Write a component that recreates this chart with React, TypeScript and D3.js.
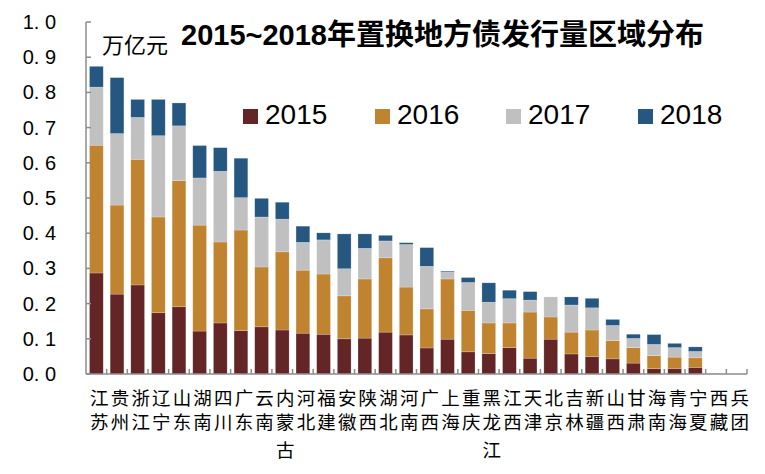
import React from 'react';
import * as d3 from 'd3';

// 各地区置换债发行量（万亿元）
const regions = [
  '江苏', '贵州', '浙江', '辽宁', '山东', '湖南', '四川', '广东', '云南', '内蒙古',
  '河北', '福建', '安徽', '陕西', '湖北', '河南', '广西', '上海', '重庆', '黑龙江',
  '江西', '天津', '北京', '吉林', '新疆', '山西', '甘肃', '海南', '青海', '宁夏',
  '西藏', '兵团',
];
const years = ['2015', '2016', '2017', '2018'];

const v2015 = [0.287, 0.227, 0.253, 0.174, 0.191, 0.122, 0.145, 0.123, 0.134, 0.125,
  0.116, 0.113, 0.100, 0.102, 0.119, 0.111, 0.074, 0.099, 0.063, 0.058,
  0.075, 0.045, 0.099, 0.057, 0.049, 0.043, 0.031, 0.015, 0.016, 0.019, 0, 0];
const v2016 = [0.363, 0.253, 0.357, 0.272, 0.358, 0.301, 0.230, 0.286, 0.170, 0.222,
  0.179, 0.171, 0.122, 0.168, 0.211, 0.136, 0.111, 0.171, 0.118, 0.087,
  0.070, 0.131, 0.063, 0.062, 0.076, 0.052, 0.044, 0.037, 0.032, 0.027, 0, 0];
const v2017 = [0.165, 0.203, 0.119, 0.231, 0.156, 0.134, 0.201, 0.092, 0.142, 0.093,
  0.079, 0.097, 0.077, 0.087, 0.048, 0.121, 0.121, 0.019, 0.079, 0.059,
  0.069, 0.034, 0.057, 0.077, 0.063, 0.043, 0.026, 0.032, 0.027, 0.018, 0.002, 0];
const v2018 = [0.059, 0.159, 0.051, 0.103, 0.065, 0.092, 0.067, 0.112, 0.053, 0.048,
  0.046, 0.020, 0.099, 0.041, 0.016, 0.005, 0.053, 0.003, 0.014, 0.055,
  0.024, 0.024, 0, 0.023, 0.027, 0.017, 0.012, 0.028, 0.012, 0.013, 0, 0];

const yTicks = [0, 0.1, 0.2, 0.3, 0.4, 0.5, 0.6, 0.7, 0.8, 0.9, 1.0];
const colors = ['#632526', '#C0832F', '#C0C0C0', '#255780'];

const W = 765;
const H = 474;
const CJK = '"Noto Sans CJK SC", "Liberation Sans", sans-serif';
const LATIN = '"Liberation Sans", Arial, "Noto Sans CJK SC", sans-serif';

export default function App() {
  const rows = regions.map((r, i) => ({
    region: r,
    '2015': v2015[i], '2016': v2016[i], '2017': v2017[i], '2018': v2018[i],
  }));
  const series = d3.stack<any>().keys(years)(rows);

  const x = d3.scaleBand<string>().domain(regions).range([86, 747]).paddingInner(0.335).paddingOuter(0.17);
  const band = d3.scaleBand<string>().domain(regions).range([86, 747]);
  const y = d3.scaleLinear().domain([0, 1]).range([374, 22]);

  // baselines of the stacked label characters
  const rowY = [405, 428.5, 457];
  const legendX = [243, 375, 506, 638];

  return (
    <div style={{ position: 'absolute', left: 0, top: 0 }}>
      <svg width={W} height={H} style={{ display: 'block', background: '#fff' }}>
        {/* bars */}
        {series.map((s, si) => (
          <g key={s.key} fill={colors[si]}>
            {s.map((d, i) => {
              const h = y(d[0]) - y(d[1]);
              if (h <= 0) return null;
              return (
                <rect key={i} x={x(regions[i])} y={y(d[1])} width={x.bandwidth()} height={h}
                  stroke="#ffffff" strokeOpacity={0.35} strokeWidth={0.6} />
              );
            })}
          </g>
        ))}

        {/* axes */}
        <g stroke="#8c8c8c" strokeWidth={1.5} fill="none">
          <line x1={86} x2={86} y1={y(1)} y2={y(0)} />
          <line x1={86} x2={747} y1={y(0)} y2={y(0)} />
          {yTicks.map(t => (
            <line key={t} x1={86} x2={91} y1={y(t)} y2={y(t)} />
          ))}
          {regions.map(r => (
            <line key={r} x1={(band(r) as number) + band.bandwidth()} x2={(band(r) as number) + band.bandwidth()}
              y1={y(0)} y2={y(0) - 5} />
          ))}
        </g>

        {/* y tick labels */}
        <g fontFamily={LATIN} fontSize={20} fill="#000" textAnchor="end">
          {yTicks.map(t => (
            <text key={t} x={56} y={y(t)} dominantBaseline="central">
              {d3.format('.1f')(t).replace('.', '. ')}
            </text>
          ))}
        </g>

        {/* x labels, vertical stacked characters */}
        <g fontFamily={CJK} fontSize={18.5} fill="#000" textAnchor="middle">
          {regions.map(r => {
            const cx = (band(r) as number) + band.bandwidth() / 2 + 3;
            return (
              <text key={r}>
                {Array.from(r).map((ch, k) => (
                  <tspan key={k} x={cx} y={rowY[k]}>{ch}</tspan>
                ))}
              </text>
            );
          })}
        </g>

        {/* unit */}
        <text x={102} y={53} fontFamily={CJK} fontSize={22} fill="#000">万亿元</text>

        {/* title */}
        <text x={181} y={45} fontFamily={LATIN} fontSize={29} fontWeight="bold" fill="#000">
          2015~2018年置换地方债发行量区域分布
        </text>

        {/* legend */}
        {years.map((yr, i) => (
          <g key={yr}>
            <rect x={legendX[i]} y={109} width={15} height={15} fill={colors[i]} />
            <text x={legendX[i] + 22} y={124} fontFamily={LATIN} fontSize={28} fill="#000">{yr}</text>
          </g>
        ))}
      </svg>
    </div>
  );
}
